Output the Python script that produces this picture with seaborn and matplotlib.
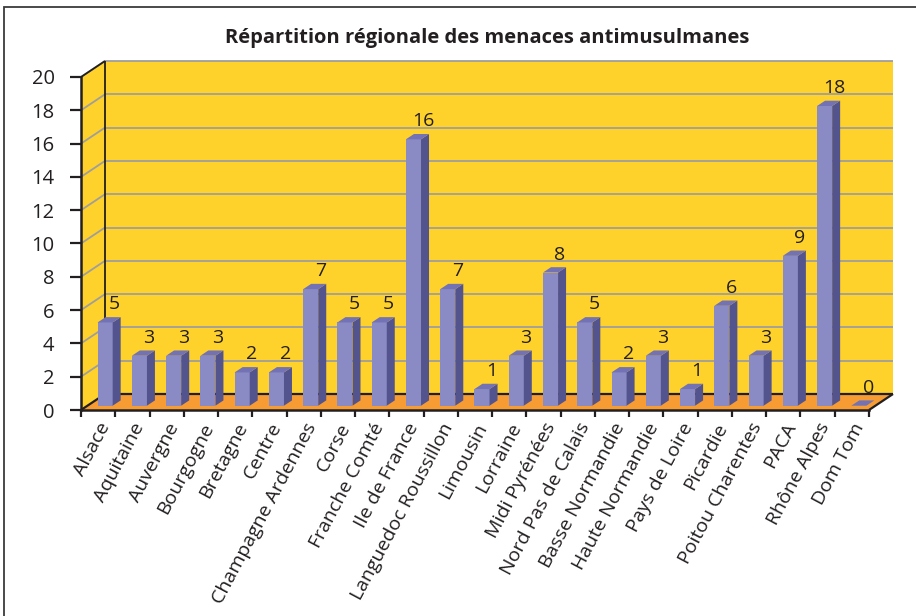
import numpy as np
import pandas as pd
import matplotlib
matplotlib.use("Agg")
import matplotlib.pyplot as plt
import seaborn as sns
from matplotlib.patches import Polygon
from matplotlib.lines import Line2D
from matplotlib.transforms import ScaledTranslation, IdentityTransform

# ---- data -------------------------------------------------------------
regions = ["Alsace", "Aquitaine", "Auvergne", "Bourgogne", "Bretagne", "Centre",
           "Champagne Ardennes", "Corse", "Franche Comté", "Ile de France",
           "Languedoc Roussillon", "Limousin", "Lorraine", "Midi Pyrénées",
           "Nord Pas de Calais", "Basse Normandie", "Haute Normandie",
           "Pays de Loire", "Picardie", "Poitou Charentes", "PACA",
           "Rhône Alpes", "Dom Tom"]
menaces = [5, 3, 3, 3, 2, 2, 7, 5, 5, 16, 7, 1, 3, 8, 5, 2, 3, 1, 6, 3, 9, 18, 0]
y_ticks = list(range(0, 21, 2))
title = "Répartition régionale des menaces antimusulmanes"

# ---- style ------------------------------------------------------------
WALL = "#FFD12B"
FLOOR = "#F79C33"
FRONT = "#8A8AC5"
SIDE = "#53538D"
TOP = "#7272B4"
GRID = "#9E9E9E"
INK = "#231F20"

sns.set_theme(style="white")
plt.rcParams["font.family"] = ["Open Sans", "DejaVu Sans"]

W, H = 916, 616
fig = plt.figure(figsize=(W / 100, H / 100), dpi=100)
fig.patch.set_facecolor("white")

# outer frame of the chart area
fig.add_artist(Polygon([(4, -10), (4, H - 7), (W + 10, H - 7), (W + 10, -10)],
                       closed=True, fill=False, edgecolor="#3A3A3A", lw=1.3,
                       transform=IdentityTransform()))

ax = fig.add_axes([81 / W, (H - 410) / H, 788 / W, 333 / H])
df = pd.DataFrame({"region": regions, "menaces": menaces})
sns.barplot(data=df, x="region", y="menaces", color=FRONT, saturation=1,
            width=0.44, linewidth=0, ax=ax, zorder=3)
ax.set_xlim(-0.5, len(regions) - 0.5)
ax.set_ylim(0, 20)
ax.patch.set_visible(False)
ax.set_xlabel("")
ax.set_ylabel("")

# depth of the 3D box (pixels), bar placement within that depth
DX, DY = 24, 16
OFF = np.array([7.0, 4.3])
SD = np.array([8.0, 5.3])


def P(x, y, z=0.0):
    """display position of data point (x, y) pushed back by depth fraction z"""
    d = ax.transData.transform((x, y))
    return d + z * np.array([DX, DY])


xl, xr = ax.get_xlim()


def poly(pts, color, z, **kw):
    ax.add_patch(Polygon(pts, closed=True, facecolor=color, edgecolor="none",
                         transform=IdentityTransform(), clip_on=False,
                         zorder=z, **kw))


def seg(a, b, color, lw, z):
    ax.add_line(Line2D([a[0], b[0]], [a[1], b[1]], color=color, lw=lw,
                       transform=IdentityTransform(), clip_on=False, zorder=z,
                       solid_capstyle="butt"))


# back wall, side wall, floor
poly([P(xl, 0, 1), P(xr, 0, 1), P(xr, 20, 1), P(xl, 20, 1)], WALL, 0.5)
poly([P(xl, 0, 0), P(xl, 0, 1), P(xl, 20, 1), P(xl, 20, 0)], WALL, 0.6)
poly([P(xl, 0, 0), P(xr, 0, 0), P(xr, 0, 1), P(xl, 0, 1)], FLOOR, 0.7)

for v in y_ticks[1:]:
    seg(P(xl, v, 1), P(xr, v, 1), GRID, 1.3, 0.8)
    seg(P(xl, v, 0), P(xl, v, 1), GRID, 1.3, 0.8)

seg(P(xl, 0, 1), P(xr, 0, 1), INK, 1.6, 0.9)
seg(P(xr, 0, 0), P(xr, 0, 1), INK, 1.6, 0.9)
seg(P(xl, 0, 0), P(xl, 0, 1), INK, 1.6, 0.9)
seg(P(xl, 0, 1), P(xl, 20, 1), INK, 1.3, 0.9)
seg(P(xl, 20, 0), P(xl, 20, 1), INK, 1.3, 0.9)

# bars: shift front faces into the box, add side and top faces
shift = ScaledTranslation(OFF[0] / 100, OFF[1] / 100, fig.dpi_scale_trans)
for p, v in zip(ax.patches[:len(menaces)], menaces):
    x0, w, h = p.get_x(), p.get_width(), p.get_height()
    p.set_transform(ax.transData + shift)
    p.set_clip_on(False)
    a = P(x0 + w, 0) + OFF
    b = P(x0 + w, h) + OFF
    poly([a, b, b + SD, a + SD], SIDE, 3)
    c = P(x0, h) + OFF
    poly([c, b, b + SD, c + SD], TOP, 3.1)
    ax.annotate(str(v), xy=(x0 + w, v), xytext=((OFF[0] + 2) * 0.72, (OFF[1] + 18) * 0.72),
                textcoords="offset points", ha="center", va="center",
                fontsize=14, color=INK, zorder=4, annotation_clip=False)

# axes, ticks, labels
for s in ["top", "right"]:
    ax.spines[s].set_visible(False)
for s in ["left", "bottom"]:
    ax.spines[s].set_color(INK)
    ax.spines[s].set_linewidth(1.8)
    ax.spines[s].set_zorder(5)

ax.set_yticks(y_ticks)
ax.set_yticklabels([str(t) for t in y_ticks])
ax.tick_params(axis="y", which="major", left=True, length=8, width=1.6,
               color=INK, labelsize=14.5, labelcolor=INK, pad=11, direction="out")

ax.set_xticks(range(len(regions)))
ax.set_xticklabels(regions, rotation=62, ha="right", va="top",
                   rotation_mode="anchor")
ax.set_xticks(np.arange(-0.5, len(regions), 1), minor=True)
ax.tick_params(axis="x", which="major", bottom=True, length=0, pad=7,
               labelsize=14, labelcolor=INK)
ax.tick_params(axis="x", which="minor", bottom=True, length=5, width=1.6,
               color=INK, direction="out")

fig.text(487 / W, 1 - 38 / H, title, ha="center", va="center",
         fontsize=14.5, fontweight="bold", color=INK)

fig.savefig("out.png", dpi=100, facecolor="white")
